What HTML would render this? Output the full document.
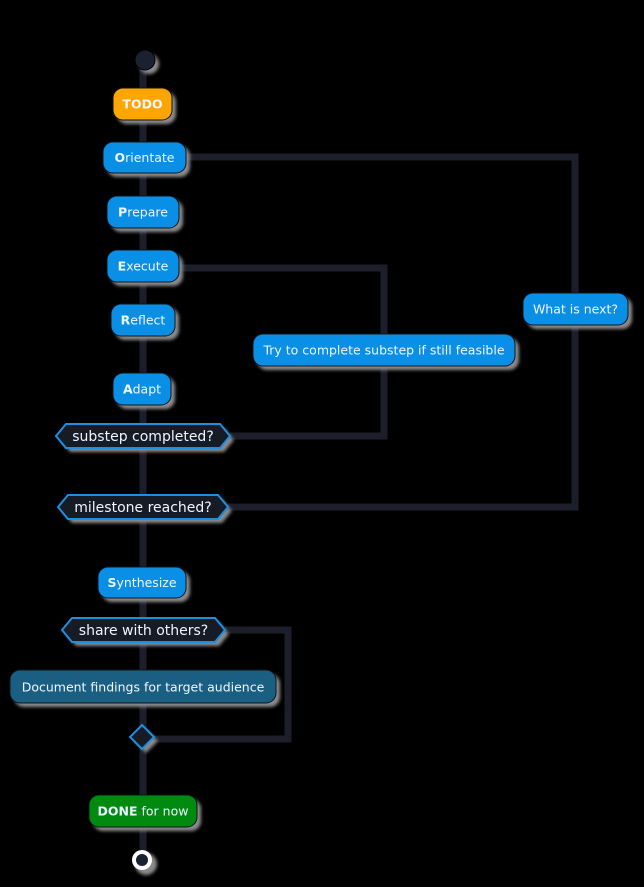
<!DOCTYPE html>
<html><head><meta charset="utf-8"><style>
html,body{margin:0;padding:0;background:#000;}
svg{display:block}
text{font-family:"DejaVu Sans","Liberation Sans",sans-serif;font-size:12.5px;fill:#eef6ff}
</style></head><body>
<svg width="644" height="887" viewBox="0 0 644 887" xmlns="http://www.w3.org/2000/svg">
<defs>
<filter id="sh" x="-20%" y="-30%" width="150%" height="180%">
<feGaussianBlur stdDeviation="1.5"/>
</filter>
</defs>
<rect width="644" height="887" fill="#000"/>
<g stroke="#1c1f2a" stroke-width="7" fill="none">
<line x1="143" y1="70" x2="143" y2="860"/>
<polyline points="186,157 575,157 575,293"/>
<polyline points="575,325 575,507 228,507"/>
<polyline points="179,268 384,268 384,334"/>
<polyline points="384,366 384,436 230,436"/>
<polyline points="225,630 288,630 288,739 152,739"/>
</g>
<!-- shadows -->
<g fill="#8a8a8a" filter="url(#sh)">
<circle cx="149" cy="64" r="10"/>
<rect x="117" y="92" width="59" height="32" rx="10"/>
<rect x="107" y="146" width="83" height="31" rx="10"/>
<rect x="111" y="200" width="72" height="32" rx="10"/>
<rect x="111" y="254" width="72" height="32" rx="10"/>
<rect x="115" y="308" width="64" height="32" rx="10"/>
<rect x="117" y="377" width="58" height="32" rx="10"/>
<rect x="257" y="338" width="262" height="32" rx="10"/>
<rect x="527" y="297" width="105" height="32" rx="10"/>
<polygon points="60,440 70,428 224,428 234,440 224,452 70,452"/>
<polygon points="62,511 72,499 222,499 232,511 222,523 72,523"/>
<rect x="102" y="571" width="88" height="31" rx="10"/>
<polygon points="66,634 76,622 219,622 229,634 219,646 76,646"/>
<rect x="14" y="674" width="266" height="33" rx="10"/>
<polygon points="146,729 158,741 146,753 134,741"/>
<rect x="93" y="799" width="108" height="32" rx="10"/>
<circle cx="146" cy="864" r="11"/>
</g>
<circle cx="145" cy="60" r="10" fill="#1b2130" stroke="#000" stroke-width="1"/>
<g stroke="#10141c" stroke-width="1">
<rect x="113" y="88" width="59" height="32" rx="10" fill="#ffa500"/>
<rect x="103" y="142" width="83" height="31" rx="10" fill="#0a8fe6"/>
<rect x="107" y="196" width="72" height="32" rx="10" fill="#0a8fe6"/>
<rect x="107" y="250" width="72" height="32" rx="10" fill="#0a8fe6"/>
<rect x="111" y="304" width="64" height="32" rx="10" fill="#0a8fe6"/>
<rect x="113" y="373" width="58" height="32" rx="10" fill="#0a8fe6"/>
<rect x="253" y="334" width="262" height="32" rx="10" fill="#0a8fe6"/>
<rect x="523" y="293" width="105" height="32" rx="10" fill="#0a8fe6"/>
<rect x="98" y="567" width="88" height="31" rx="10" fill="#0a8fe6"/>
<rect x="10" y="670" width="266" height="33" rx="10" fill="#1a5f82"/>
<rect x="89" y="795" width="108" height="32" rx="10" fill="#008a10"/>
</g>
<g fill="#161b26" stroke="#1e8ee0" stroke-width="2">
<polygon points="56,436 66,424 220,424 230,436 220,448 66,448"/>
<polygon points="58,507 68,495 218,495 228,507 218,519 68,519"/>
<polygon points="62,630 72,618 215,618 225,630 215,642 72,642"/>
<polygon points="142,725 154,737 142,749 130,737"/>
</g>
<circle cx="142" cy="860" r="10" fill="#fff"/>
<circle cx="142" cy="860" r="6" fill="#1b2130"/>
<text x="142.5" y="108.5" text-anchor="middle" font-weight="bold">TODO</text>
<text x="144.5" y="162" text-anchor="middle"><tspan font-weight="bold">O</tspan>rientate</text>
<text x="143" y="216.5" text-anchor="middle"><tspan font-weight="bold">P</tspan>repare</text>
<text x="143" y="270.5" text-anchor="middle"><tspan font-weight="bold">E</tspan>xecute</text>
<text x="143" y="324.5" text-anchor="middle"><tspan font-weight="bold">R</tspan>eflect</text>
<text x="142" y="393.5" text-anchor="middle"><tspan font-weight="bold">A</tspan>dapt</text>
<text x="384" y="354.5" text-anchor="middle">Try to complete substep if still feasible</text>
<text x="575.5" y="313.5" text-anchor="middle">What is next?</text>
<text x="143" y="441" text-anchor="middle" style="font-size:14px">substep completed?</text>
<text x="143" y="512" text-anchor="middle" style="font-size:14px">milestone reached?</text>
<text x="142" y="587" text-anchor="middle"><tspan font-weight="bold">S</tspan>ynthesize</text>
<text x="143.5" y="635" text-anchor="middle" style="font-size:14px">share with others?</text>
<text x="143" y="691.5" text-anchor="middle">Document findings for target audience</text>
<text x="143" y="815.5" text-anchor="middle"><tspan font-weight="bold">DONE</tspan> for now</text>
</svg>
</body></html>
